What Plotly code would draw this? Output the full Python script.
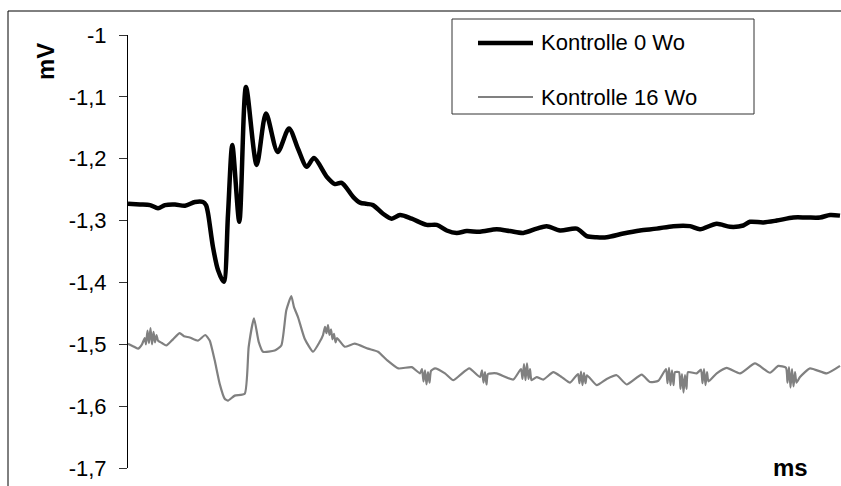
import plotly.graph_objects as go

# ---- data (time in arbitrary ms units, voltage in mV) ----
names = ["Kontrolle 0 Wo", "Kontrolle 16 Wo"]

t_0wo = [0, 12, 22, 30, 37, 47, 57, 67, 75, 78, 80, 85, 90, 95.7, 100, 104.3, 111.3, 118,
         128.7, 138, 149.7, 161, 170, 178.7, 186, 198.7, 207, 213.7, 225.3, 232, 238.7, 245,
         255, 263.7, 272, 283.7, 298.7, 308.7, 318.7, 328.7, 338.7, 352, 368.7, 382, 395.3,
         408.7, 418.7, 432, 448.7, 458.7, 468.7, 478.7, 495.3, 512, 528.7, 545.3, 562, 572,
         588.7, 602, 615.3, 622, 635.3, 648.7, 665.3, 678.7, 692, 702, 712]
v_0wo = [-1.273, -1.274, -1.275, -1.280, -1.275, -1.274, -1.276, -1.270, -1.270, -1.275,
         -1.288, -1.343, -1.380, -1.399, -1.290, -1.178, -1.302, -1.084,
         -1.210, -1.127, -1.189, -1.151, -1.184, -1.213, -1.199, -1.229, -1.241, -1.239,
         -1.262, -1.271, -1.273, -1.275, -1.289, -1.297, -1.291, -1.297, -1.307, -1.307,
         -1.316, -1.320, -1.317, -1.318, -1.314, -1.317, -1.320, -1.313, -1.309, -1.316,
         -1.313, -1.325, -1.327, -1.327, -1.321, -1.316, -1.313, -1.309, -1.309, -1.314,
         -1.305, -1.310, -1.308, -1.302, -1.303, -1.300, -1.295, -1.295, -1.295, -1.291, -1.292]

t_16wo = [0, 5, 10, 14, 16.7, 18, 19.5, 21, 22.5, 24, 25.5, 27, 28.5, 30, 34, 38.3, 45, 51.7,
          56, 61.7, 70, 77.3, 81.7, 86.7, 91.7, 96.7, 100, 106.7, 116.7, 120.7, 126, 130.7,
          135, 146.7, 153.3, 158.3, 163.3, 166, 170, 176.7, 185, 191.7,
          195, 197, 198.5, 200, 201.5, 203, 204.5, 206, 207.5, 209,
          216.7, 226.7, 240, 250, 259.3, 270.3, 283.7, 292,
          294, 295.5, 297, 298.5, 300, 301.5, 303,
          307, 317, 325.3, 332, 341.3, 352,
          354, 355.5, 357, 358.5, 360,
          368.7, 385.3,
          393, 394.5, 396, 397.5, 399, 400.5, 402, 403.5,
          408.7, 415.3, 425.3, 433.7, 442,
          450, 451.5, 453, 454.5, 456, 457.5, 459,
          468.7, 478.7, 488.7, 498.7, 513.7, 522, 530.3,
          538, 539.5, 541, 542.5, 544, 545.5, 547,
          551, 552.5, 554, 555.5, 557, 558.5, 560,
          568.7,
          573, 574.5, 576, 577.5, 579, 580.5,
          588.7, 598.7, 612, 627, 642, 650.3,
          658, 659.5, 661, 662.5, 664, 665.5, 667, 668.5,
          672, 682, 698.7, 712]
v_16wo = [-1.499, -1.503, -1.507, -1.500, -1.490, -1.500, -1.478, -1.498, -1.474, -1.500,
          -1.480, -1.497, -1.485, -1.494, -1.498, -1.502, -1.492, -1.482,
          -1.487, -1.489, -1.494, -1.485, -1.494, -1.526, -1.564, -1.588, -1.591, -1.583,
          -1.580, -1.504, -1.458, -1.496,
          -1.512, -1.510, -1.502, -1.445, -1.422, -1.440, -1.456, -1.491, -1.512, -1.496,
          -1.485, -1.472, -1.482, -1.469, -1.485, -1.476, -1.492, -1.483, -1.497, -1.490,
          -1.504, -1.499, -1.507, -1.512, -1.526, -1.539, -1.537, -1.547,
          -1.540, -1.560, -1.542, -1.565, -1.545, -1.562, -1.543,
          -1.539, -1.547, -1.558, -1.550, -1.539, -1.553,
          -1.542, -1.562, -1.545, -1.565, -1.548,
          -1.547, -1.557,
          -1.540, -1.556, -1.532, -1.558, -1.531, -1.556, -1.540, -1.558,
          -1.553, -1.557, -1.545, -1.553, -1.562,
          -1.548, -1.563, -1.544, -1.566, -1.546, -1.563, -1.550,
          -1.566, -1.556, -1.550, -1.565, -1.549, -1.561, -1.559,
          -1.540, -1.563, -1.538, -1.566, -1.542, -1.566, -1.545,
          -1.545, -1.572, -1.548, -1.578, -1.550, -1.572, -1.545,
          -1.547,
          -1.541, -1.563, -1.540, -1.566, -1.545, -1.560,
          -1.547, -1.538, -1.547, -1.531, -1.546, -1.535,
          -1.538, -1.562, -1.537, -1.570, -1.540, -1.568, -1.545, -1.562,
          -1.553, -1.539, -1.547, -1.535]

y_ticks = [-1.0, -1.1, -1.2, -1.3, -1.4, -1.5, -1.6, -1.7]
y_labels = ["-1", "-1,1", "-1,2", "-1,3", "-1,4", "-1,5", "-1,6", "-1,7"]

colors = ["#000000", "#808080"]
widths = [4.5, 2.2]

FONT = "Liberation Sans, Arial, sans-serif"

fig = go.Figure()
fig.add_trace(go.Scatter(x=t_0wo, y=v_0wo, mode="lines", name=names[0],
                         line=dict(color=colors[0], width=widths[0], shape="spline",
                                   smoothing=0.8), showlegend=False))
fig.add_trace(go.Scatter(x=t_16wo, y=v_16wo, mode="lines", name=names[1],
                         line=dict(color=colors[1], width=widths[1], shape="spline",
                                   smoothing=0.5), showlegend=False))

W, H = 841, 486
L, R, T, B = 128, 0, 35, 18
pw, ph = W - L - R, H - T - B

def px(x):
    return (x - L) / pw

def py(y):
    return (H - B - y) / ph

shapes = []
# outer chart frame
shapes.append(dict(type="rect", xref="paper", yref="paper",
                   x0=px(8), x1=px(846), y0=py(492), y1=py(11),
                   line=dict(color="black", width=1), fillcolor="rgba(0,0,0,0)", layer="below"))
# legend box
shapes.append(dict(type="rect", xref="paper", yref="paper",
                   x0=px(452), x1=px(754), y0=py(114), y1=py(19),
                   line=dict(color="#333333", width=1), fillcolor="white"))
annotations = []
leg_y = [43, 97]
for i in range(2):
    shapes.append(dict(type="line", xref="paper", yref="paper",
                       x0=px(478), x1=px(533), y0=py(leg_y[i]), y1=py(leg_y[i]),
                       line=dict(color=colors[i], width=widths[i])))
    annotations.append(dict(xref="paper", yref="paper", x=px(539), y=py(leg_y[i]),
                            text=names[i], showarrow=False, xanchor="left", yanchor="middle",
                            font=dict(family=FONT, size=22, color="black")))

annotations.append(dict(xref="paper", yref="paper", x=px(45), y=py(62), text="<b>mV</b>",
                        textangle=-90, showarrow=False, xanchor="center", yanchor="middle",
                        font=dict(family=FONT, size=24, color="black")))
annotations.append(dict(xref="paper", yref="paper", x=px(790), y=py(467), text="<b>ms</b>",
                        showarrow=False, xanchor="center", yanchor="middle",
                        font=dict(family=FONT, size=24, color="black")))

fig.update_layout(
    width=W, height=H,
    margin=dict(l=L, r=R, t=T, b=B),
    paper_bgcolor="white", plot_bgcolor="white",
    shapes=shapes, annotations=annotations,
    xaxis=dict(range=[0, 713], showline=False, showticklabels=False, showgrid=False,
               zeroline=False, ticks=""),
    yaxis=dict(range=[-1.7, -1.0], tickvals=y_ticks, ticktext=y_labels,
               showline=True, linecolor="black", linewidth=1,
               ticks="outside", ticklen=8, tickcolor="#333333", tickwidth=1,
               showgrid=False, zeroline=False, ticklabelstandoff=8,
               tickfont=dict(family=FONT, size=22, color="black")),
    font=dict(family=FONT),
)

fig.write_html("out.html")
